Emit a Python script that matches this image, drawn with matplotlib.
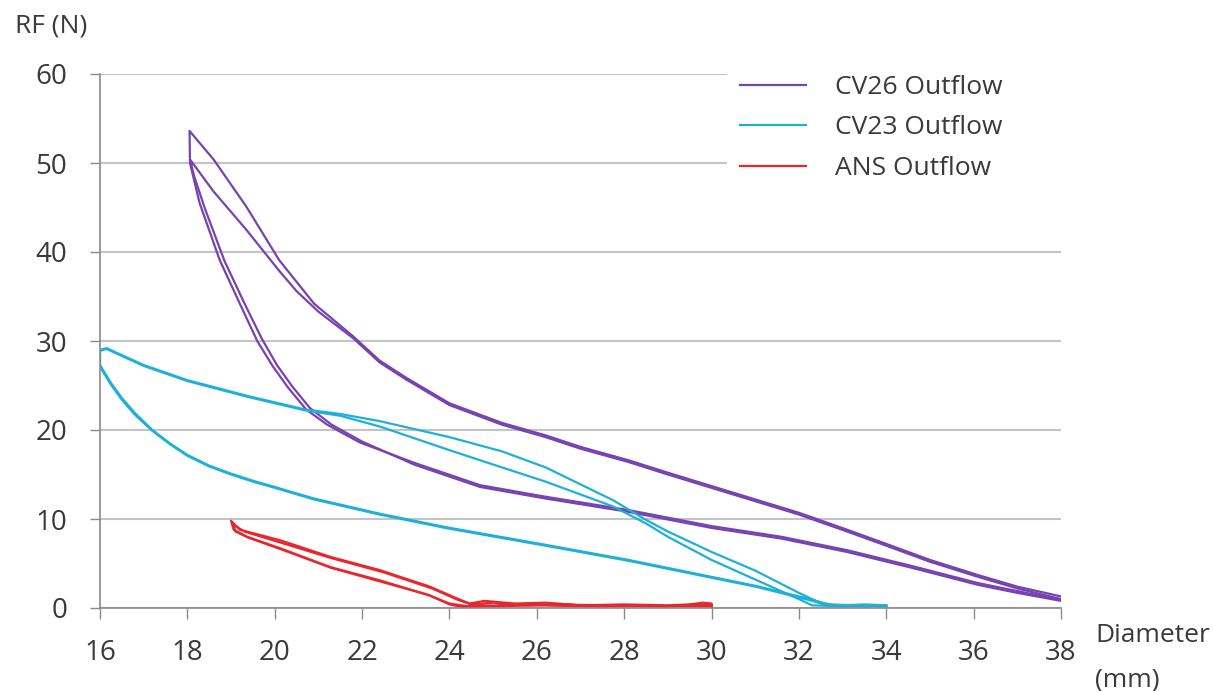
import matplotlib
matplotlib.use("Agg")
import matplotlib.pyplot as plt
from matplotlib.patches import Rectangle

plt.rcParams['font.family'] = ['Open Sans', 'DejaVu Sans']

# CV26 outflow - two crimp cycles (loading: 38 -> 18 mm, unloading: 18 -> 38 mm)
cv26_load1_x = [38.0, 37.0, 36.1, 35.0, 34.0, 33.1, 32.0, 31.0, 30.0, 29.0, 28.1, 27.0, 26.2, 25.2,
                24.0, 23.0, 22.4, 21.8, 20.9, 20.1, 19.35, 18.6, 18.05]
cv26_load1_y = [1.3, 2.4, 3.7, 5.4, 7.2, 8.8, 10.7, 12.2, 13.7, 15.2, 16.6, 18.1, 19.4, 20.8,
                23.0, 25.9, 27.8, 30.5, 34.2, 39.1, 45.1, 50.4, 53.6]
cv26_unload1_x = [18.05, 18.06, 18.28, 18.74, 19.2, 19.6, 19.95, 20.3, 20.72, 21.2, 21.95, 23.2, 24.7,
                  26.2, 28.1, 30.0, 31.6, 33.1, 34.6, 36.1, 37.0, 38.0]
cv26_unload1_y = [53.6, 50.0, 45.5, 39.1, 34.2, 30.0, 27.2, 24.8, 22.3, 20.6, 18.6, 16.3, 13.8,
                  12.5, 11.0, 9.2, 8.0, 6.5, 4.7, 2.8, 1.9, 0.9]
cv26_load2_x = [38.0, 37.0, 36.1, 35.0, 34.0, 33.1, 32.0, 31.0, 30.0, 29.0, 28.1, 27.0, 26.2, 25.2,
                24.0, 23.0, 22.4, 21.8, 21.0, 20.5, 20.1, 19.35, 18.6, 18.06]
cv26_load2_y = [1.0, 2.2, 3.5, 5.2, 7.0, 8.6, 10.5, 12.0, 13.5, 15.0, 16.4, 17.9, 19.2, 20.6,
                22.8, 25.7, 27.6, 30.3, 33.3, 35.6, 37.9, 42.5, 46.8, 50.4]
cv26_unload2_x = [18.06, 18.15, 18.4, 18.85, 19.3, 19.7, 20.05, 20.4, 20.8, 21.3, 22.0, 23.2, 24.7,
                  26.2, 28.1, 30.0, 31.6, 33.1, 34.6, 36.1, 37.0, 38.0]
cv26_unload2_y = [50.4, 48.6, 44.9, 39.0, 34.3, 30.3, 27.3, 24.9, 22.5, 20.6, 18.7, 16.1, 13.6,
                  12.3, 10.8, 9.0, 7.8, 6.3, 4.5, 2.6, 1.7, 0.8]

# CV23 outflow - two cycles (loading 34 -> 16 mm, unloading 16 -> 34 mm)
cv23_load1_x = [34.0, 33.5, 33.0, 32.6, 32.0, 31.0, 30.0, 29.0, 28.5, 27.75, 26.2, 25.2, 24.0, 22.4,
                21.5, 20.7, 19.4, 18.0, 17.0, 16.15, 16.0]
cv23_load1_y = [0.3, 0.4, 0.3, 0.3, 1.7, 4.2, 6.3, 8.6, 9.9, 12.1, 15.8, 17.6, 19.2, 21.0,
                21.8, 22.3, 23.8, 25.6, 27.3, 29.2, 29.0]
cv23_unload1_x = [16.0, 16.0, 16.25, 16.5, 16.8, 17.2, 17.6, 18.0, 18.5, 19.0, 19.5, 20.0, 20.9,
                  22.4, 23.9, 24.7, 26.2, 28.1, 30.0, 31.0, 32.0, 32.7, 33.3, 34.0]
cv23_unload1_y = [29.0, 27.3, 25.3, 23.6, 21.9, 20.0, 18.5, 17.2, 16.0, 15.1, 14.3, 13.6, 12.3,
                  10.6, 9.1, 8.4, 7.1, 5.4, 3.5, 2.5, 1.3, 0.4, 0.3, 0.3]
cv23_load2_x = [34.0, 33.5, 33.0, 32.3, 32.0, 31.5, 30.0, 29.0, 28.5, 27.75, 26.2, 24.7, 23.9, 22.4,
                21.5, 20.7, 19.4, 18.0, 17.0, 16.15, 16.0]
cv23_load2_y = [0.2, 0.3, 0.2, 0.3, 1.0, 2.1, 5.4, 8.0, 9.5, 11.4, 14.2, 16.6, 17.9, 20.4,
                21.6, 22.2, 23.7, 25.5, 27.2, 29.1, 28.9]
cv23_unload2_x = [16.0, 16.0, 16.25, 16.5, 16.8, 17.2, 17.6, 18.0, 18.5, 19.0, 19.5, 20.0, 20.9,
                  22.4, 23.9, 24.7, 26.2, 28.1, 30.0, 31.0, 32.0, 32.6, 33.3, 34.0]
cv23_unload2_y = [28.9, 27.1, 25.1, 23.4, 21.7, 19.9, 18.4, 17.1, 15.9, 15.0, 14.2, 13.5, 12.2,
                  10.5, 9.0, 8.3, 7.0, 5.3, 3.4, 2.4, 1.2, 0.4, 0.2, 0.2]

# ANS outflow - two cycles (loading 30 -> 19 mm, unloading 19 -> 30 mm)
ans_load1_x = [30.0, 30.0, 29.8, 29.5, 29.0, 28.0, 27.0, 26.2, 25.5, 24.8, 24.46, 24.16, 23.55, 22.41,
               21.27, 20.13, 19.2, 19.0]
ans_load1_y = [0.0, 0.5, 0.6, 0.4, 0.3, 0.4, 0.3, 0.6, 0.5, 0.8, 0.5, 1.1, 2.4, 4.25,
               5.75, 7.6, 8.8, 9.8]
ans_unload1_x = [19.0, 19.06, 19.37, 20.13, 21.27, 22.41, 23.55, 24.0, 24.3, 25.0, 26.0, 27.0, 28.0,
                 29.0, 30.0]
ans_unload1_y = [9.8, 8.8, 8.0, 6.7, 4.6, 3.1, 1.4, 0.4, 0.1, 0.2, 0.3, 0.2, 0.2, 0.2, 0.2]
ans_load2_x = [30.0, 29.6, 29.0, 28.2, 27.4, 26.6, 25.8, 25.0, 24.5, 24.2, 23.6, 22.5, 21.3, 20.1,
               19.3, 19.05]
ans_load2_y = [0.3, 0.4, 0.2, 0.3, 0.2, 0.4, 0.3, 0.6, 0.4, 0.9, 2.2, 4.0, 5.6, 7.4, 8.6, 9.4]
ans_unload2_x = [19.05, 19.1, 19.4, 20.2, 21.3, 22.4, 23.5, 24.0, 24.4, 25.2, 26.4, 27.6, 28.8, 30.0]
ans_unload2_y = [9.4, 8.6, 7.9, 6.5, 4.5, 3.0, 1.5, 0.5, 0.2, 0.3, 0.4, 0.3, 0.2, 0.3]

x_ticks = [16, 18, 20, 22, 24, 26, 28, 30, 32, 34, 36, 38]
y_ticks = [0, 10, 20, 30, 40, 50, 60]

purple = '#7743b0'
cyan = '#1fb0d8'
red = '#e8262b'
grey_text = '#3a3a3a'

W, H = 1213, 691
fig = plt.figure(figsize=(W/100, H/100), dpi=100)
ax = fig.add_axes([100/W, 1-608/H, (1061-100)/W, (608-74)/H])

lw = 1.6
ax.plot(cv26_load1_x + cv26_unload1_x, cv26_load1_y + cv26_unload1_y, color=purple, lw=lw, label='CV26 Outflow')
ax.plot(cv26_load2_x + cv26_unload2_x, cv26_load2_y + cv26_unload2_y, color=purple, lw=lw)
ax.plot(cv23_load1_x + cv23_unload1_x, cv23_load1_y + cv23_unload1_y, color=cyan, lw=lw, label='CV23 Outflow')
ax.plot(cv23_load2_x + cv23_unload2_x, cv23_load2_y + cv23_unload2_y, color=cyan, lw=lw)
ax.plot(ans_load1_x + ans_unload1_x, ans_load1_y + ans_unload1_y, color=red, lw=lw, label='ANS Outflow')
ax.plot(ans_load2_x + ans_unload2_x, ans_load2_y + ans_unload2_y, color=red, lw=lw)

ax.set_xlim(16, 38)
ax.set_ylim(0, 60)
ax.set_xticks(x_ticks)
ax.set_yticks(y_ticks)
ax.yaxis.grid(True, color='#c4c4c4', lw=1.5)
ax.set_axisbelow(True)
for s in ['top', 'right']:
    ax.spines[s].set_visible(False)
for s in ['left', 'bottom']:
    ax.spines[s].set_color('#8a8a8a')
    ax.spines[s].set_linewidth(1.2)
ax.tick_params(axis='y', direction='out', length=7.5, width=1, color='#8a8a8a',
               labelsize=20, labelcolor=grey_text, pad=16)
ax.tick_params(axis='x', direction='out', length=8, width=1, color='#8a8a8a',
               labelsize=20, labelcolor=grey_text, pad=14)

# white legend area hiding the gridlines behind it
ax.add_patch(Rectangle((727/W, 1-190/H), (1075-727)/W, (190-55)/H, transform=fig.transFigure,
                       facecolor='white', edgecolor='none', zorder=1, clip_on=False))

leg = ax.legend(loc='upper left', bbox_to_anchor=(727/W, 1-62/H), bbox_transform=fig.transFigure,
                fontsize=19, frameon=False, handlelength=2.5, handletextpad=1.1,
                labelspacing=0.58, borderpad=0.5, borderaxespad=0)
for t in leg.get_texts():
    t.set_color(grey_text)

fig.text(15/W, 1-26/H, 'RF (N)', fontsize=19, color=grey_text, ha='left', va='center')
fig.text(1095/W, 1-635/H, 'Diameter', fontsize=19, color=grey_text, ha='left', va='center')
fig.text(1095/W, 1-680/H, '(mm)', fontsize=19, color=grey_text, ha='left', va='center')

fig.savefig('out.png', dpi=100, facecolor='white')
